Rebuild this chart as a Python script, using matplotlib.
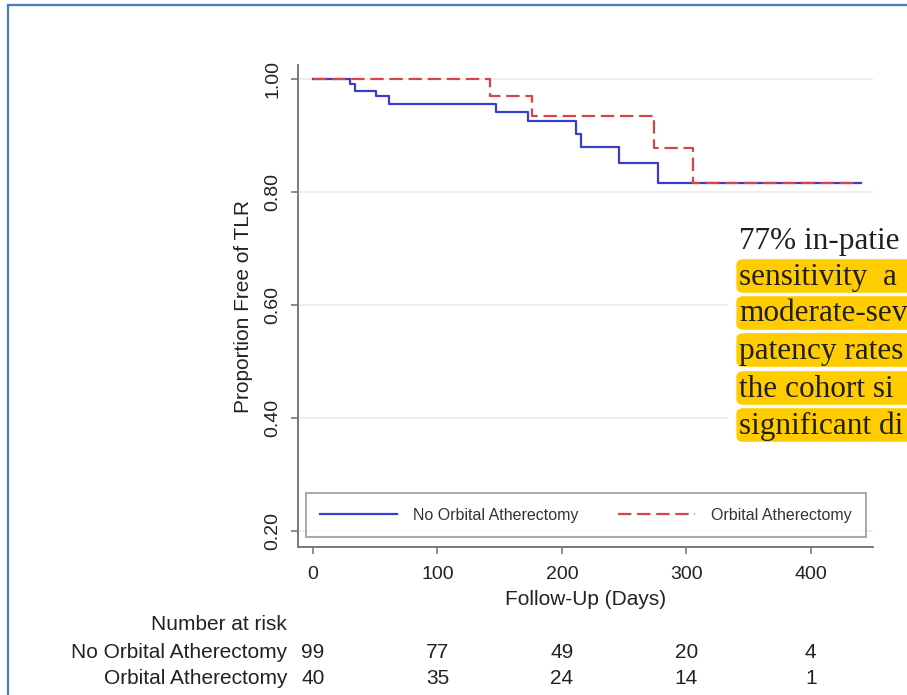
import matplotlib
matplotlib.use("Agg")
import matplotlib.pyplot as plt
from matplotlib.patches import Rectangle, FancyBboxPatch
from matplotlib.lines import Line2D
import matplotlib.transforms as mtransforms

# ---------------- data ----------------
no_oa_times = [0, 30, 34, 51, 61, 147, 173, 211, 215, 246, 277]
no_oa_surv = [1.000, 0.992, 0.978, 0.970, 0.955, 0.942, 0.926, 0.902, 0.880, 0.851, 0.816]
no_oa_end = 440

oa_times = [0, 142, 176, 274, 305]
oa_surv = [1.000, 0.970, 0.935, 0.878, 0.816]
oa_end = 438

series_names = ["No Orbital Atherectomy", "Orbital Atherectomy"]
risk_times = [0, 100, 200, 300, 400]
risk_no_oa = [99, 77, 49, 20, 4]
risk_oa = [40, 35, 24, 14, 1]

y_ticks = [0.20, 0.40, 0.60, 0.80, 1.00]
x_ticks = [0, 100, 200, 300, 400]

# visible (cropped) part of the overlaid document text
overlay_lines = ["77% in-patie", "sensitivity  a", "moderate-sev",
                 "patency rates", "the cohort si", "significant di"]

# ---------------- figure ----------------
W, H = 907, 695
fig = plt.figure(figsize=(W / 100, H / 100), dpi=100)
fig.patch.set_facecolor("white")

sans = ["Liberation Sans", "DejaVu Sans"]
plt.rcParams["font.family"] = sans


def fx(x):
    return x / W


def fy(y):
    return 1 - y / H


ax_left, ax_right, ax_top, ax_bottom = 298, 873, 65, 547
ax = fig.add_axes([fx(ax_left), fy(ax_bottom), fx(ax_right - ax_left), (ax_bottom - ax_top) / H])

x0, x1 = -12, 450
y0, y1 = 0.1717, 1.0248
ax.set_xlim(x0, x1)
ax.set_ylim(y0, y1)

for s in ["top", "right"]:
    ax.spines[s].set_visible(False)
for s in ["left", "bottom"]:
    ax.spines[s].set_color("#7a7a7a")
    ax.spines[s].set_linewidth(1.4)

ax.set_yticks(y_ticks)
ax.set_yticklabels([f"{v:.2f}" for v in y_ticks], rotation=90, va="center")
ax.set_xticks(x_ticks)
ax.set_xticklabels([str(v) for v in x_ticks])
ax.tick_params(axis="both", direction="out", length=5, width=1.2, color="#7a7a7a",
               labelsize=14, labelcolor="#222222")
ax.tick_params(axis="y", pad=7)
ax.tick_params(axis="x", pad=9)

for v in y_ticks:
    ax.axhline(v, color="#ebebeb", lw=1.2, zorder=0)

blue = "#3c3ccc"
red = "#d64545"
ax.step(no_oa_times + [no_oa_end], no_oa_surv + [no_oa_surv[-1]], where="post",
        color=blue, lw=1.6, zorder=3, label=series_names[0])
ax.step(oa_times + [oa_end], oa_surv + [oa_surv[-1]], where="post",
        color=red, lw=1.6, dashes=(6, 2.6), zorder=4, label=series_names[1])

ax.set_ylabel("Proportion Free of TLR", fontsize=15, color="#222222", labelpad=8)
ax.set_xlabel("Follow-Up (Days)", fontsize=15, color="#222222", labelpad=5)

# legend box
lx0, lx1, ly0, ly1 = 306, 866, 495, 537
bb = ((lx0 - ax_left) / (ax_right - ax_left), (ax_bottom - ly1) / (ax_bottom - ax_top),
      (lx1 - lx0) / (ax_right - ax_left), (ly1 - ly0) / (ax_bottom - ax_top))
leg = ax.legend(loc="lower left", bbox_to_anchor=bb, mode="expand", ncol=2,
                fontsize=11.5, frameon=True, fancybox=False, edgecolor="#8a8a8a",
                handlelength=4.8, handletextpad=1.0, borderaxespad=0, borderpad=0.9,
                columnspacing=2.0)
leg.get_frame().set_linewidth(1.3)
for t in leg.get_texts():
    t.set_color("#333333")

# number at risk table
trans = mtransforms.blended_transform_factory(ax.transData, fig.transFigure)
fig.text(fx(287), fy(625), "Number at risk", ha="right", va="center", fontsize=15, color="#222222")
fig.text(fx(287), fy(652), series_names[0], ha="right", va="center", fontsize=15, color="#222222")
fig.text(fx(287), fy(678), series_names[1], ha="right", va="center", fontsize=15, color="#222222")
for t, a, b in zip(risk_times, risk_no_oa, risk_oa):
    ax.text(t, fy(652), str(a), transform=trans, ha="center", va="center", fontsize=15,
            color="#222222", clip_on=False)
    ax.text(t, fy(678), str(b), transform=trans, ha="center", va="center", fontsize=15,
            color="#222222", clip_on=False)

# overlaid document text box (white background covering the chart)
fig.add_artist(Rectangle((fx(728), fy(448)), fx(W - 728) + 0.01, (448 - 212) / H,
                         transform=fig.transFigure, facecolor="white", edgecolor="none", zorder=5))
line_y = [240, 276, 313, 350, 388, 425]
for i, (txt, yy) in enumerate(zip(overlay_lines, line_y)):
    if i > 0:
        fig.add_artist(FancyBboxPatch((fx(740), fy(yy + 14)), fx(W - 740) + 0.02, 28 / H,
                                      boxstyle="round,pad=0.004,rounding_size=0.008",
                                      transform=fig.transFigure, facecolor="#ffcc00",
                                      edgecolor="none", zorder=6))
    fig.text(fx(739), fy(yy + 1), txt, ha="left", va="center", fontsize=22.5,
             family=["Liberation Serif", "DejaVu Serif"], color="#1e1e1e", zorder=7)

# blue screenshot frame
fig.add_artist(Line2D([fx(8), fx(8)], [0, fy(5)], transform=fig.transFigure,
                      color="#4a7ebb", lw=1.6, zorder=8))
fig.add_artist(Line2D([fx(8), 1.0], [fy(5), fy(5)], transform=fig.transFigure,
                      color="#4a7ebb", lw=1.6, zorder=8))

fig.savefig("out.png", dpi=100)
